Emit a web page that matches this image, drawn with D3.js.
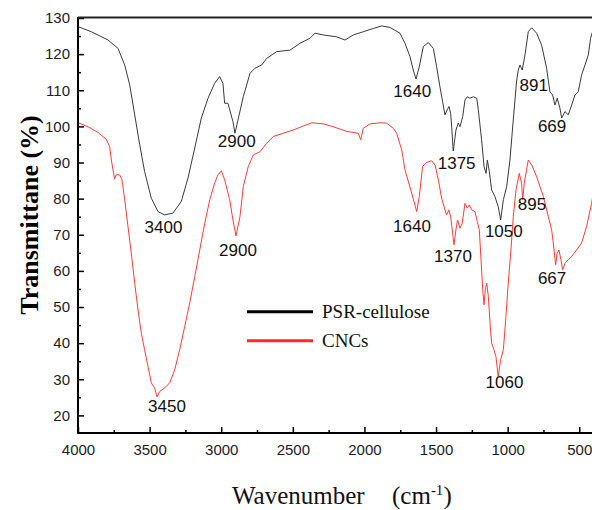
<!DOCTYPE html>
<meta charset="utf-8">
<script src="https://d3js.org/d3.v7.min.js"></script>
<style>
  body { margin: 0; background: #fff; }
</style>
<div id="ftir"></div>
<script>

// spectra: [wavenumber, transmittance]
var psrCellulose = [
  [4000,127.6],[3907,126.2],[3790,123.9],[3721,121.6],[3674,117],[3639,111.5],[3604,103.2],
  [3569,94.9],[3535,87.5],[3488,80.1],[3441,76.4],[3395,75.5],[3337,76],[3279,79.2],[3232,85.7],
  [3185,94],[3139,102.3],[3092,107.8],[3046,111.9],[3011,113.8],[2988,111.9],[2976,106.4],
  [2953,106.4],[2918,101.3],[2904,98.1],[2846,108.2],[2799,114.7],[2764,116.1],[2717,117],
  [2683,118.8],[2613,120.7],[2520,121.1],[2450,123],[2380,124.4],[2345,125.8],[2287,125.3],
  [2194,124.8],[2136,123.9],[2078,125.3],[2008,126.2],[1938,127.1],[1880,127.8],[1822,127.4],
  [1752,125.8],[1717,123],[1682,119.3],[1659,115.6],[1640,113.1],[1617,116.5],[1589,122.1],
  [1554,123.2],[1519,121.6],[1496,116.5],[1473,111],[1454,106.8],[1438,103.2],[1422,104.6],
  [1410,105.5],[1398,103.6],[1391,99.9],[1380,93.2],[1361,99],[1345,100.9],[1333,99.9],
  [1314,102.7],[1298,107.3],[1282,108.2],[1263,107.8],[1240,108.2],[1216,107.8],[1205,104.6],
  [1182,96.3],[1165,88.9],[1151,87],[1142,90.7],[1128,87.5],[1112,82.4],[1089,80.6],
  [1066,77.8],[1049,74.1],[1030,79.7],[1007,83.3],[984,90.7],[961,101.8],[937,112.8],
  [926,115.6],[914,117],[898,115.6],[879,119.8],[856,126.2],[832,127.3],[798,125.8],
  [763,122.5],[728,116.1],[705,109.6],[686,108.7],[670,105.9],[654,107.8],[635,105],
  [623,102.3],[600,104.1],[577,103.2],[553,105.9],[530,108.7],[507,109.6],[484,114.2],
  [460,117],[437,119.8],[421,124.4],[405,126.5]
];

var cncs = [
  [4000,101],[3930,99.9],[3860,98.3],[3802,96.4],[3779,94.4],[3767,90.7],[3756,88],[3744,85.4],
  [3733,86.6],[3709,86.6],[3693,85.2],[3674,79.7],[3651,72.3],[3628,64.9],[3604,56.6],
  [3581,49.2],[3558,42.8],[3535,38.2],[3511,33.5],[3488,29],[3465,27.6],[3448,25.1],
  [3430,26.6],[3395,27.6],[3360,29],[3325,32.6],[3290,38.2],[3255,44.6],[3220,51.1],
  [3185,58.4],[3150,65.8],[3115,73.2],[3080,79.7],[3046,84.3],[3023,86.6],[2999,87.7],
  [2976,85.2],[2941,79.7],[2918,74.1],[2897,69.7],[2869,75],[2846,83.3],[2811,88.9],
  [2776,92.1],[2729,93],[2683,95.3],[2636,97.2],[2567,98.1],[2497,99],[2427,100.1],
  [2368,101],[2287,100.7],[2217,99.9],[2124,98.6],[2043,98.1],[2026,96.3],[2008,99.5],
  [1961,100.7],[1891,101],[1845,100.9],[1799,99.5],[1775,98.1],[1740,93.5],[1717,88],
  [1670,81.5],[1635,76.4],[1617,80.6],[1594,88.9],[1566,90],[1531,90.5],[1507,89.3],
  [1484,85.2],[1461,80.1],[1438,76.9],[1426,75.5],[1410,76.9],[1398,75],[1384,70.4],
  [1375,67.2],[1361,71.4],[1350,74.1],[1333,71.8],[1317,73.2],[1298,78.7],[1282,77.4],
  [1268,78.3],[1251,76.9],[1228,76.4],[1212,73.6],[1198,71.4],[1186,63.1],[1174,54.8],
  [1165,50.6],[1156,54.8],[1146,56.6],[1135,52.9],[1123,45.5],[1112,40],[1096,38.2],
  [1082,36.3],[1066,30.8],[1049,35.4],[1030,38.2],[1012,47.4],[996,56.6],[977,65.8],
  [961,75],[942,82.4],[919,87],[903,84.3],[895,79.7],[884,84.3],[856,90.7],[832,89.3],
  [798,86.1],[751,80.6],[716,75],[693,71.4],[676,65.8],[665,61.7],[654,64.9],[642,65.8],
  [628,63.1],[616,60.3],[600,62.1],[577,63.1],[553,64],[518,65.8],[484,67.7],[449,72.3],
  [414,78.7],[405,81]
];

var seriesNames = ["PSR-cellulose", "CNCs"];
var seriesColors = ["#000000", "#ff2a2a"];

// peak annotations: text and where it sits, in data units
var psrPeaks = [
  {text: "3400", w: 3403, t: 70.4}, {text: "2900", w: 2892, t: 94.4},
  {text: "1640", w: 1666, t: 108.1}, {text: "1375", w: 1356, t: 88.2},
  {text: "1050", w: 1027, t: 69.5}, {text: "891", w: 818, t: 109.9},
  {text: "669", w: 690, t: 98.4}
];
var cncPeaks = [
  {text: "3450", w: 3379, t: 20.9}, {text: "2900", w: 2883, t: 64},
  {text: "1640", w: 1668, t: 70.9}, {text: "1370", w: 1382, t: 62.6},
  {text: "1060", w: 1022, t: 27.6}, {text: "895", w: 830, t: 76.9},
  {text: "667", w: 690, t: 56.3}
];

var xTicks = [4000, 3500, 3000, 2500, 2000, 1500, 1000, 500];
var yTicks = [20, 30, 40, 50, 60, 70, 80, 90, 100, 110, 120, 130];

var W = 592, H = 510;
var margin = {top: 18, left: 78, bottom: 77};
var height = H - margin.top - margin.bottom;

var svg = d3.select("#ftir").append("svg")
  .attr("width", W)
  .attr("height", H);

var x = d3.scaleLinear().domain([4000, 400]).range([margin.left, margin.left + 515.6]);
var y = d3.scaleLinear().domain([15.13, 130]).range([margin.top + height, margin.top]);

var sansFont = "'Liberation Sans', Arial, sans-serif";
var serifFont = "'Liberation Serif', 'Times New Roman', serif";

var plot = svg.append("g");

// curves
var line = d3.line()
  .x(function(d) { return x(d[0]); })
  .y(function(d) { return y(d[1]); });

plot.append("path")
  .datum(psrCellulose)
  .attr("fill", "none")
  .attr("stroke", "#3a3a3a")
  .attr("stroke-width", 1)
  .attr("d", line);

plot.append("path")
  .datum(cncs)
  .attr("fill", "none")
  .attr("stroke", "#ff3b3b")
  .attr("stroke-width", 1)
  .attr("d", line);

// x axis (ticks point inward)
var xAxisG = svg.append("g")
  .attr("transform", "translate(0," + y(15.13) + ")");
xAxisG.call(d3.axisBottom(x).tickValues(xTicks).tickSize(-6).tickPadding(11).tickFormat(d3.format("d")));
xAxisG.append("g").call(d3.axisBottom(x).tickValues(d3.range(3750, 400, -500)).tickSize(-3).tickFormat(""));

var yAxisG = svg.append("g")
  .attr("transform", "translate(" + x(4000) + ",0)");
yAxisG.call(d3.axisLeft(y).tickValues(yTicks).tickSize(-6).tickPadding(8));
yAxisG.append("g").call(d3.axisLeft(y).tickValues(d3.range(25, 130, 10)).tickSize(-3).tickFormat(""));

svg.selectAll(".domain").remove();
svg.selectAll(".tick line").attr("stroke", "#000").attr("stroke-width", 1.5);
svg.selectAll(".tick text")
  .attr("fill", "#1c1c24")
  .style("font-family", sansFont)
  .style("font-size", "15px");

// frame lines
svg.append("line")
  .attr("x1", x(4000)).attr("x2", W)
  .attr("y1", y(15.13)).attr("y2", y(15.13))
  .attr("stroke", "#000").attr("stroke-width", 2);
svg.append("line")
  .attr("x1", x(4000)).attr("x2", x(4000))
  .attr("y1", y(130) - 1).attr("y2", y(15.13) + 1)
  .attr("stroke", "#000").attr("stroke-width", 2);
svg.append("line")
  .attr("x1", x(4000)).attr("x2", W)
  .attr("y1", y(130) - 0.5).attr("y2", y(130) - 0.5)
  .attr("stroke", "#222").attr("stroke-width", 2);

// peak labels
svg.append("g").selectAll("text")
  .data(psrPeaks.concat(cncPeaks))
  .enter().append("text")
    .attr("x", function(d) { return x(d.w); })
    .attr("y", function(d) { return y(d.t); })
    .attr("text-anchor", "middle")
    .style("font-family", sansFont)
    .style("font-size", "17px")
    .attr("fill", "#111")
    .text(function(d) { return d.text; });

// legend
var legend = svg.append("g").selectAll("g")
  .data(seriesNames)
  .enter().append("g")
    .attr("transform", function(d, i) { return "translate(247," + (311.7 + i * 29) + ")"; });
legend.append("line")
  .attr("x1", 0).attr("x2", 66)
  .attr("stroke", function(d, i) { return seriesColors[i]; })
  .attr("stroke-width", 3);
legend.append("text")
  .attr("x", 75).attr("y", 6.5)
  .style("font-family", serifFont)
  .style("font-size", "19px")
  .attr("fill", "#111")
  .text(function(d) { return d; });

// axis titles
svg.append("text")
  .attr("transform", "translate(38,215) rotate(-90)")
  .attr("text-anchor", "middle")
  .style("font-family", serifFont)
  .style("font-size", "26px")
  .style("font-weight", "bold")
  .text("Transmittane (%)");

var xt = svg.append("text")
  .attr("x", 232).attr("y", 504)
  .style("font-family", serifFont)
  .style("font-size", "25px")
  .attr("fill", "#111");
xt.append("tspan").text("Wavenumber");
xt.append("tspan").attr("x", 392).text("(cm");
xt.append("tspan").attr("dy", -9).style("font-size", "15px").text("-1");
xt.append("tspan").attr("dy", 9).text(")");

</script>
